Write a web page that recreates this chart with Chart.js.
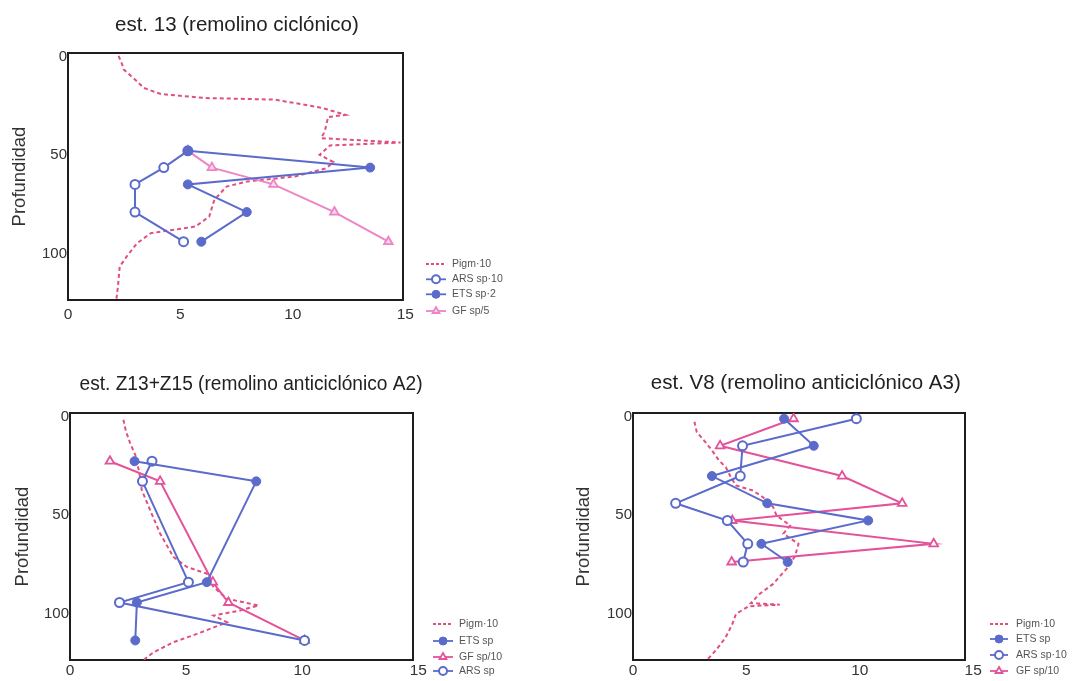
<!DOCTYPE html>
<html lang="es">
<head>
<meta charset="utf-8">
<title>Perfiles verticales por estación</title>
<script src="https://cdn.jsdelivr.net/npm/chart.js@4.4.1/dist/chart.umd.min.js"></script>
<style>
  html, body { margin: 0; padding: 0; background: #fff; }
  body { position: relative; width: 1072px; height: 681px; overflow: hidden; }
  canvas { position: absolute; }
</style>
</head>
<body>
<canvas id="est13" width="540" height="340" style="left:0;top:0"></canvas>
<canvas id="estZ" width="540" height="321" style="left:0;top:360px"></canvas>
<canvas id="estV8" width="512" height="321" style="left:560px;top:360px"></canvas>
<script>
// ---------------- datos ----------------
const xTicks = [0, 5, 10, 15];
const depthTicks = [0, 50, 100];

// est. 13 (remolino ciclónico)
const e13Depth = [49.5, 58, 66.5, 80.5, 95.5];
const e13ARS = [5.33, 4.26, 2.98, 2.98, 5.14];
const e13ETS = [5.33, 13.44, 5.33, 7.95, 5.93];
const e13GF = [5.33, 6.4, 9.14, 11.85, 14.25];
const e13PigmDepth = [1.5, 5.5, 8.4, 13.5, 17.7, 20.8, 22.8, 23.6, 25.7, 27.9, 31.3, 32.4, 39.7, 43.1, 45.3, 46.8, 51.5, 55.2, 58.3, 62.5, 65.0, 67.6, 74.3, 82.8, 87.8, 91.2, 96.3, 103, 108.1, 118.2, 125];
const e13Pigm = [2.25, 2.4, 2.48, 2.99, 3.37, 4.14, 6.13, 9.2, 10.27, 11.34, 12.34, 11.57, 11.42, 11.26, 14.79, 11.65, 11.19, 11.8, 11.49, 10.11, 7.97, 7.05, 6.51, 6.28, 5.67, 3.68, 3.07, 2.61, 2.3, 2.22, 2.15];

// est. Z13+Z15 (remolino anticiclónico A2)
const ezDepth = [24.4, 34.6, 85.6, 95.9, 115.1];
const ezETS = [2.78, 8.02, 5.89, 2.88, 2.81];
const ezGF = [1.72, 3.88, 6.15, 6.82, 10.1];
const ezARS = [3.53, 3.12, 5.1, 2.13, 10.1];
const ezPigmDepth = [3.4, 9.3, 15.2, 21.2, 30.5, 39.0, 49.1, 61.0, 72.8, 77.9, 81.3, 88.1, 94.0, 97.4, 99.9, 102.5, 105.9, 111.8, 116.0, 121.1, 125];
const ezPigm = [2.3, 2.41, 2.59, 2.81, 2.99, 3.09, 3.45, 3.88, 4.45, 5.03, 5.89, 6.18, 6.76, 8.12, 7.33, 6.18, 6.76, 5.47, 4.45, 3.6, 3.16];

// est. V8 (remolino anticiclónico A3)
const ev8Depth = [2.9, 16.6, 31.9, 45.7, 54.4, 66.2, 75.4];
const ev8ETS = [6.66, 7.97, 3.48, 5.92, 10.37, 5.66, 6.82];
const ev8ARS = [9.85, 4.83, 4.73, 1.88, 4.16, 5.06, 4.86];
const ev8GF = [7.08, 3.84, 9.22, 11.87, 4.38, 13.26, 4.35];
const ev8PigmDepth = [4.4, 9.6, 14.7, 18.9, 24.0, 27.4, 32.4, 36.7, 39.2, 42.6, 47.6, 51.9, 56.9, 61.1, 66.2, 72.6, 78.9, 86.5, 91.6, 96.2, 97, 97.8, 101.7, 106.8, 113.5, 120.3, 125];
const ev8Pigm = [2.71, 2.81, 3.19, 3.48, 3.79, 4.09, 4.31, 4.54, 5.28, 5.73, 6.18, 6.33, 6.93, 6.63, 7.3, 7.14, 6.77, 6.18, 5.58, 5.2, 6.47, 5.1, 4.54, 4.38, 4.09, 3.64, 3.26];

// ---------------- estilo ----------------
Chart.defaults.font.family = '"Liberation Sans", Arial, Helvetica, sans-serif';
const BLUE = '#5a6bcb';
const PIGM = '#e0507f';
const GF_LIGHT = '#ee84c6';
const GF_DARK = '#e4529a';

const pts = (xs, ys) => xs.map((x, i) => ({ x, y: ys[i] }));

function pigmSet(label, xs, ys) {
  return { label, data: pts(xs, ys), showLine: true, borderColor: PIGM, borderWidth: 2,
           borderDash: [4, 3], pointRadius: 0, tension: 0, order: 10 };
}
function openCircle(label, xs, ys) {
  return { label, data: pts(xs, ys), showLine: true, borderColor: BLUE, borderWidth: 2,
           pointStyle: 'circle', pointRadius: 4.5, pointBorderWidth: 2,
           pointBackgroundColor: '#fff', pointBorderColor: BLUE, tension: 0, order: 2 };
}
function filledCircle(label, xs, ys) {
  return { label, data: pts(xs, ys), showLine: true, borderColor: BLUE, borderWidth: 2,
           pointStyle: 'circle', pointRadius: 4.5, pointBorderWidth: 1,
           pointBackgroundColor: BLUE, pointBorderColor: BLUE, tension: 0, order: 1 };
}
function triangle(label, xs, ys, color, fill) {
  return { label, data: pts(xs, ys), showLine: true, borderColor: color, borderWidth: 2,
           pointStyle: 'triangle', pointRadius: 5, pointBorderWidth: 1.8,
           pointBackgroundColor: fill, pointBorderColor: color, tension: 0, order: 3 };
}

// black frame around the plotting area
const frame = {
  id: 'frame',
  beforeDatasetsDraw(chart) {
    const { ctx, chartArea: a } = chart;
    ctx.save();
    ctx.strokeStyle = '#1e1e1e';
    ctx.lineWidth = 2;
    ctx.strokeRect(a.left, a.top, a.right - a.left, a.bottom - a.top);
    ctx.restore();
  }
};

// horizontal nudge for the chart title
const titleNudge = {
  id: 'titleNudge',
  afterLayout(chart, args, opts) {
    const t = chart.titleBlock;
    if (t && opts.dx) { t.left += opts.dx; t.right += opts.dx; }
  }
};

// compact legend below-right of the frame: line + marker + label
const sideLegend = {
  id: 'sideLegend',
  afterDraw(chart, args, opts) {
    const ctx = chart.ctx;
    ctx.save();
    ctx.font = '10.5px "Liberation Sans", Arial, sans-serif';
    ctx.textBaseline = 'middle';
    ctx.textAlign = 'left';
    opts.order.forEach((dsIndex, i) => {
      const ds = chart.data.datasets[dsIndex];
      const y = opts.rows[i];
      ctx.strokeStyle = ds.borderColor;
      ctx.lineWidth = 1.8;
      ctx.setLineDash(ds.borderDash ? [3, 2] : []);
      ctx.beginPath();
      ctx.moveTo(opts.x - opts.half, y);
      ctx.lineTo(opts.x + opts.half, y);
      ctx.stroke();
      ctx.setLineDash([]);
      if (ds.pointRadius > 0) {
        ctx.fillStyle = ds.pointBackgroundColor;
        ctx.strokeStyle = ds.pointBorderColor;
        ctx.lineWidth = ds.pointBorderWidth;
        Chart.helpers.drawPoint(ctx, { pointStyle: ds.pointStyle, radius: 4, borderWidth: ds.pointBorderWidth, rotation: 0 }, opts.x, y);
      }
      ctx.fillStyle = '#555';
      ctx.fillText(ds.label, opts.textX, y);
    });
    ctx.restore();
  }
};

function panel(id, cfg) {
  return new Chart(document.getElementById(id), {
    type: 'scatter',
    data: { datasets: cfg.datasets },
    options: {
      responsive: false,
      animation: false,
      events: [],
      layout: { padding: { left: 0, right: cfg.padRight, top: 0, bottom: 0 } },
      scales: {
        x: {
          type: 'linear', position: 'bottom', min: 0, max: cfg.xMax,
          grid: { display: false, drawTicks: false }, border: { display: false },
          afterBuildTicks: s => { s.ticks = xTicks.map(v => ({ value: v })); },
          afterFit: s => { s.height = cfg.xAxisH; },
          ticks: { padding: cfg.xTickPad, color: '#333', font: { size: 15.5 } }
        },
        y: {
          type: 'linear', position: 'left', reverse: true, min: 0, max: 125,
          grid: { display: false, drawTicks: false }, border: { display: false },
          afterBuildTicks: s => { s.ticks = depthTicks.map(v => ({ value: v })); },
          afterFit: s => { s.width = cfg.yAxisW; },
          ticks: { padding: 1, labelOffset: 3.5, color: '#333', font: { size: 15 } },
          title: { display: true, text: 'Profundidad', color: '#333', font: { size: 18.5 },
                   padding: { top: cfg.yTitlePad, bottom: 0 } }
        }
      },
      plugins: {
        legend: { display: false },
        tooltip: { enabled: false },
        title: { display: true, text: cfg.title, fullSize: false, color: '#222',
                 font: { size: 20.5, weight: 'normal' },
                 padding: { top: cfg.titlePadTop, bottom: cfg.titlePadBottom } },
        titleNudge: { dx: cfg.titleDx },
        sideLegend: cfg.legend
      }
    },
    plugins: [frame, titleNudge, sideLegend]
  });
}

panel('est13', {
  title: 'est. 13 (remolino ciclónico)',
  datasets: [
    pigmSet('Pigm·10', e13Pigm, e13PigmDepth),
    openCircle('ARS sp·10', e13ARS, e13Depth),
    filledCircle('ETS sp·2', e13ETS, e13Depth),
    triangle('GF sp/5', e13GF, e13Depth, GF_LIGHT, '#f9d6ec')
  ],
  xMax: 14.9, padRight: 137, xAxisH: 40, xTickPad: 5.7, yAxisW: 68, yTitlePad: 9.3,
  titlePadTop: 12.7, titlePadBottom: 15.7, titleDx: 1.4,
  legend: { order: [0, 1, 2, 3], x: 436, half: 10, textX: 452, rows: [264, 279.3, 294.3, 311] }
});

panel('estZ', {
  title: 'est. Z13+Z15 (remolino anticiclónico A2)',
  datasets: [
    pigmSet('Pigm·10', ezPigm, ezPigmDepth),
    filledCircle('ETS sp', ezETS, ezDepth),
    triangle('GF sp/10', ezGF, ezDepth, GF_DARK, '#fff'),
    openCircle('ARS sp', ezARS, ezDepth)
  ],
  xMax: 14.77, padRight: 127, xAxisH: 21, xTickPad: 1.7, yAxisW: 70, yTitlePad: 11.7,
  titlePadTop: 11.7, titlePadBottom: 16.7, titleDx: 9.5,
  legend: { order: [0, 1, 2, 3], x: 443, half: 10, textX: 459, rows: [264, 281, 297, 311] }
});

panel('estV8', {
  title: 'est. V8 (remolino anticiclónico A3)',
  datasets: [
    pigmSet('Pigm·10', ev8Pigm, ev8PigmDepth),
    filledCircle('ETS sp', ev8ETS, ev8Depth),
    openCircle('ARS sp·10', ev8ARS, ev8Depth),
    triangle('GF sp/10', ev8GF, ev8Depth, GF_DARK, '#fff')
  ],
  xMax: 14.64, padRight: 107, xAxisH: 21, xTickPad: 1.7, yAxisW: 73, yTitlePad: 12.9,
  titlePadTop: 11.3, titlePadBottom: 17.1, titleDx: 6.8,
  legend: { order: [0, 1, 2, 3], x: 439, half: 9, textX: 456, rows: [264, 279, 295, 311] }
});
</script>
</body>
</html>
